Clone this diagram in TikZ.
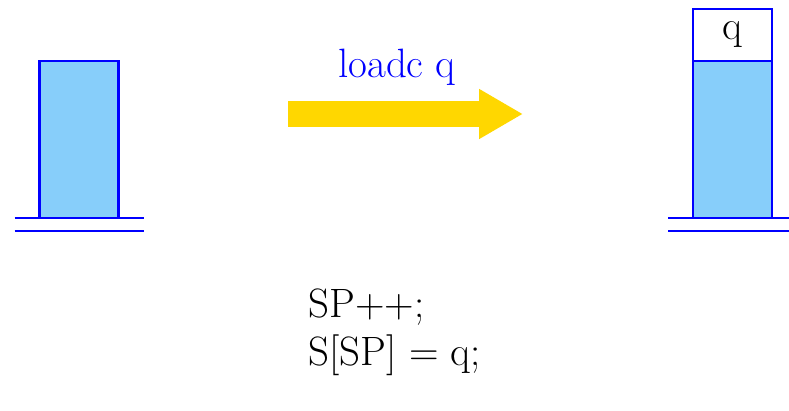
\documentclass[tikz,border=0pt]{standalone}
\usepackage{fontspec}
\usepackage{tikz}
\usetikzlibrary{arrows.meta, positioning}
\definecolor{stackblue}{RGB}{135,206,250}
\definecolor{movegold}{RGB}{255,215,0}

\begin{document}
\begin{tikzpicture}[
    x=1pt, y=-1pt,
    cell/.style={rectangle, draw=blue, line width=2.2pt, fill=stackblue, minimum width=79pt, minimum height=157pt, inner sep=0pt, outer sep=0pt},
    ground/.style={draw=blue, line width=2.2pt},
    big/.style={font=\fontsize{41}{48}\selectfont},
    move/.style={-{Triangle[length=44pt, width=47pt]}, line width=26pt, movegold}
]
\useasboundingbox (0,0) rectangle (789,411);

% stack before
\node[cell] (S1) at (79,139.5) {};
\draw[ground] ([xshift=-25pt]S1.south west) -- ([xshift=25pt]S1.south east);
\draw[ground] ([shift={(-25pt,-13pt)}]S1.south west) -- ([shift={(25pt,-13pt)}]S1.south east);

% stack after
\node[cell] (S2) at (732.5,139.5) {};
\node[cell, big, fill=white, minimum height=52pt, above=0pt of S2] (Q) {q};
\draw[ground] ([xshift=-25pt]S2.south west) -- ([xshift=25pt]S2.south east);
\draw[ground] ([shift={(-25pt,-13pt)}]S2.south west) -- ([shift={(25pt,-13pt)}]S2.south east);

% instruction
\coordinate (M1) at (288,114);
\coordinate (M2) at (523,114);
\draw[move] (M1) -- (M2);
\node[big, text=blue, anchor=base] (L) at (397,78) {loadc q};

% effect
\node[big, anchor=base west] (C1) at (305,318) {SP++;};
\node[big, anchor=base west] (C2) at (305,365) {S[SP] = q;};
\end{tikzpicture}
\end{document}
